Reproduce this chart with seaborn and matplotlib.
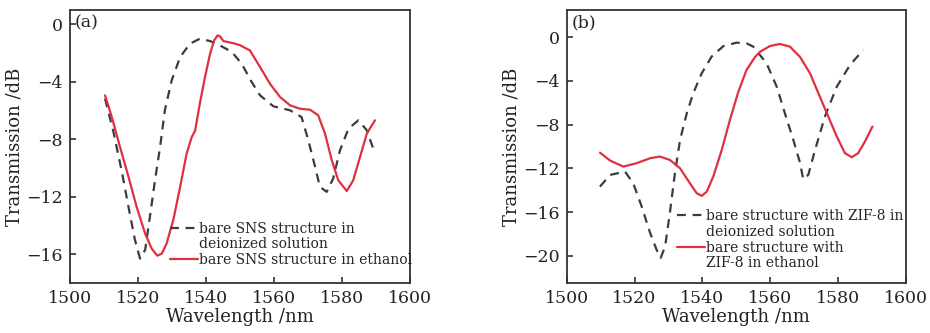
import matplotlib
matplotlib.use("Agg")
import matplotlib.pyplot as plt
import seaborn as sns
import pandas as pd
from matplotlib.lines import Line2D

# ---- Panel (a) data ----
a_di_x = [1510.3, 1512.7, 1515.2, 1517.2, 1519.1, 1520.6, 1522.1, 1523.5, 1525.0, 1526.5,
          1527.9, 1529.9, 1532.4, 1535.3, 1538.2, 1541.2, 1544.6, 1547.6, 1550.5, 1553.4,
          1555.9, 1559.8, 1564.7, 1568.1, 1570.1, 1572.1, 1573.5, 1575.5, 1577.4, 1579.4,
          1581.9, 1584.8, 1587.3, 1589.7]
a_di_y = [-5.17, -7.4, -10.2, -12.7, -15.0, -16.3, -15.7, -13.4, -10.85, -8.53,
          -5.98, -3.9, -2.27, -1.34, -1.0, -1.16, -1.53, -1.92, -2.74, -4.0,
          -4.94, -5.7, -5.98, -6.45, -8.07, -9.93, -11.3, -11.66, -10.73, -8.77,
          -7.26, -6.68, -7.37, -9.0]
a_et_x = [1510.3, 1512.3, 1514.7, 1517.2, 1519.6, 1522.1, 1524.0, 1525.7, 1527.0, 1528.4,
          1530.4, 1532.4, 1534.3, 1535.8, 1536.8, 1538.2, 1539.7, 1541.2, 1542.4, 1543.4,
          1544.1, 1545.1, 1548.5, 1550.0, 1552.9, 1555.9, 1558.8, 1561.8, 1564.7, 1567.6,
          1570.6, 1573.0, 1575.0, 1577.0, 1578.9, 1581.4, 1583.3, 1585.3, 1587.3, 1589.7]
a_et_y = [-4.94, -6.45, -8.53, -10.6, -12.7, -14.56, -15.6, -16.1, -15.95, -15.26,
          -13.6, -11.3, -9.0, -7.84, -7.4, -5.5, -3.67, -2.04, -1.11, -0.77,
          -0.83, -1.16, -1.34, -1.45, -1.81, -2.97, -4.13, -5.06, -5.63, -5.87,
          -5.94, -6.33, -7.6, -9.46, -10.85, -11.6, -10.85, -9.23, -7.6, -6.68]

# ---- Panel (b) data ----
b_di_x = [1509.8, 1512.8, 1517.2, 1519.6, 1522.1, 1524.6, 1526.5, 1527.7, 1529.0, 1530.4,
          1531.9, 1533.4, 1535.4, 1537.3, 1539.8, 1542.7, 1546.2, 1550.1, 1553.0, 1555.0,
          1558.9, 1561.9, 1564.3, 1566.8, 1568.8, 1569.7, 1571.2, 1573.2, 1576.1, 1579.6,
          1583.5, 1587.4]
b_di_y = [-13.67, -12.6, -12.3, -13.36, -15.5, -17.93, -19.46, -20.2, -19.16, -16.1,
          -12.44, -9.4, -6.95, -5.12, -3.29, -1.77, -0.8, -0.49, -0.55, -0.86,
          -2.38, -4.52, -6.95, -9.4, -11.53, -13.0, -12.6, -10.31, -7.26, -4.52,
          -2.53, -1.16]
b_et_x = [1509.8, 1512.8, 1516.7, 1520.6, 1524.6, 1527.5, 1530.4, 1533.4, 1536.3, 1538.3,
          1539.8, 1541.3, 1543.2, 1545.7, 1548.1, 1550.6, 1553.0, 1555.5, 1557.0, 1559.9,
          1562.8, 1565.8, 1568.7, 1571.7, 1574.6, 1577.1, 1579.6, 1582.0, 1584.0, 1585.9,
          1587.9, 1590.1]
b_et_y = [-10.56, -11.29, -11.84, -11.53, -11.07, -10.92, -11.23, -11.99, -13.36, -14.27,
          -14.52, -14.13, -12.75, -10.31, -7.57, -4.98, -2.99, -1.8, -1.32, -0.8,
          -0.61, -0.86, -1.77, -3.29, -5.43, -7.26, -9.09, -10.61, -10.98, -10.61,
          -9.55, -8.18]

a_labels = ["bare SNS structure in", "deionized solution", "bare SNS structure in ethanol"]
b_labels = ["bare structure with ZIF-8 in", "deionized solution",
            "bare structure with", "ZIF-8 in ethanol"]
x_ticks = [1500, 1520, 1540, 1560, 1580, 1600]
a_yticks = [0, -4, -8, -12, -16]
b_yticks = [0, -4, -8, -12, -16, -20]

sns.set_theme(style="ticks")
plt.rcParams["font.family"] = ["DejaVu Serif"]
plt.rcParams["mathtext.fontset"] = "dejavuserif"

GRAY = "#3c3c3c"
RED = "#e0303f"

fig = plt.figure(figsize=(9.3, 3.33), dpi=100)
axA = fig.add_axes([70/930, 1-283/333, 340/930, 273/333])
axB = fig.add_axes([566.7/930, 1-283/333, 339.3/930, 273/333])

def style(ax, yticks, ylim, tag):
    ax.set_xlim(1500, 1600)
    ax.set_ylim(*ylim)
    ax.set_xticks(x_ticks)
    ax.set_yticks(yticks)
    ax.set_yticklabels([("\u2212" + str(-t)) if t < 0 else str(t) for t in yticks])
    ax.tick_params(direction="in", length=4, width=1.1, labelsize=12.5, colors="#222222",
                   labelcolor="#222222", pad=5)
    for s in ax.spines.values():
        s.set_linewidth(1.3)
        s.set_color("#333333")
    ax.set_xlabel("Wavelength /nm", fontsize=13, labelpad=1, color="#222222")
    ax.set_ylabel("Transmission /dB", fontsize=13, labelpad=2, color="#222222")
    ax.text(0.015, 0.985, tag, transform=ax.transAxes, ha="left", va="top",
            fontsize=12.5, color="#222222")

# Panel (a)
dfa1 = pd.DataFrame({"x": a_di_x, "y": a_di_y})
dfa2 = pd.DataFrame({"x": a_et_x, "y": a_et_y})
sns.lineplot(data=dfa1, x="x", y="y", ax=axA, color=GRAY, lw=1.6, sort=False,
             linestyle=(0, (4, 3)))
sns.lineplot(data=dfa2, x="x", y="y", ax=axA, color=RED, lw=1.6, sort=False)
style(axA, a_yticks, (-18, 1), "(a)")
blank = Line2D([], [], color="none")
la = axA.get_lines()
axA.legend([la[0], blank, la[1]], a_labels, loc="upper left",
           bbox_to_anchor=(0.295, 0.225), frameon=False, fontsize=10,
           handlelength=2.0, handletextpad=0.1, labelspacing=0.12,
           borderpad=0, borderaxespad=0)

# Panel (b)
dfb1 = pd.DataFrame({"x": b_di_x, "y": b_di_y})
dfb2 = pd.DataFrame({"x": b_et_x, "y": b_et_y})
sns.lineplot(data=dfb1, x="x", y="y", ax=axB, color=GRAY, lw=1.6, sort=False,
             linestyle=(0, (4, 3)))
sns.lineplot(data=dfb2, x="x", y="y", ax=axB, color=RED, lw=1.6, sort=False)
style(axB, b_yticks, (-22.5, 2.5), "(b)")
lb = axB.get_lines()
axB.legend([lb[0], blank, lb[1], blank], b_labels, loc="upper left",
           bbox_to_anchor=(0.325, 0.27), frameon=False, fontsize=10,
           handlelength=2.0, handletextpad=0.1, labelspacing=0.12,
           borderpad=0, borderaxespad=0)

fig.savefig("out.png", dpi=100)
